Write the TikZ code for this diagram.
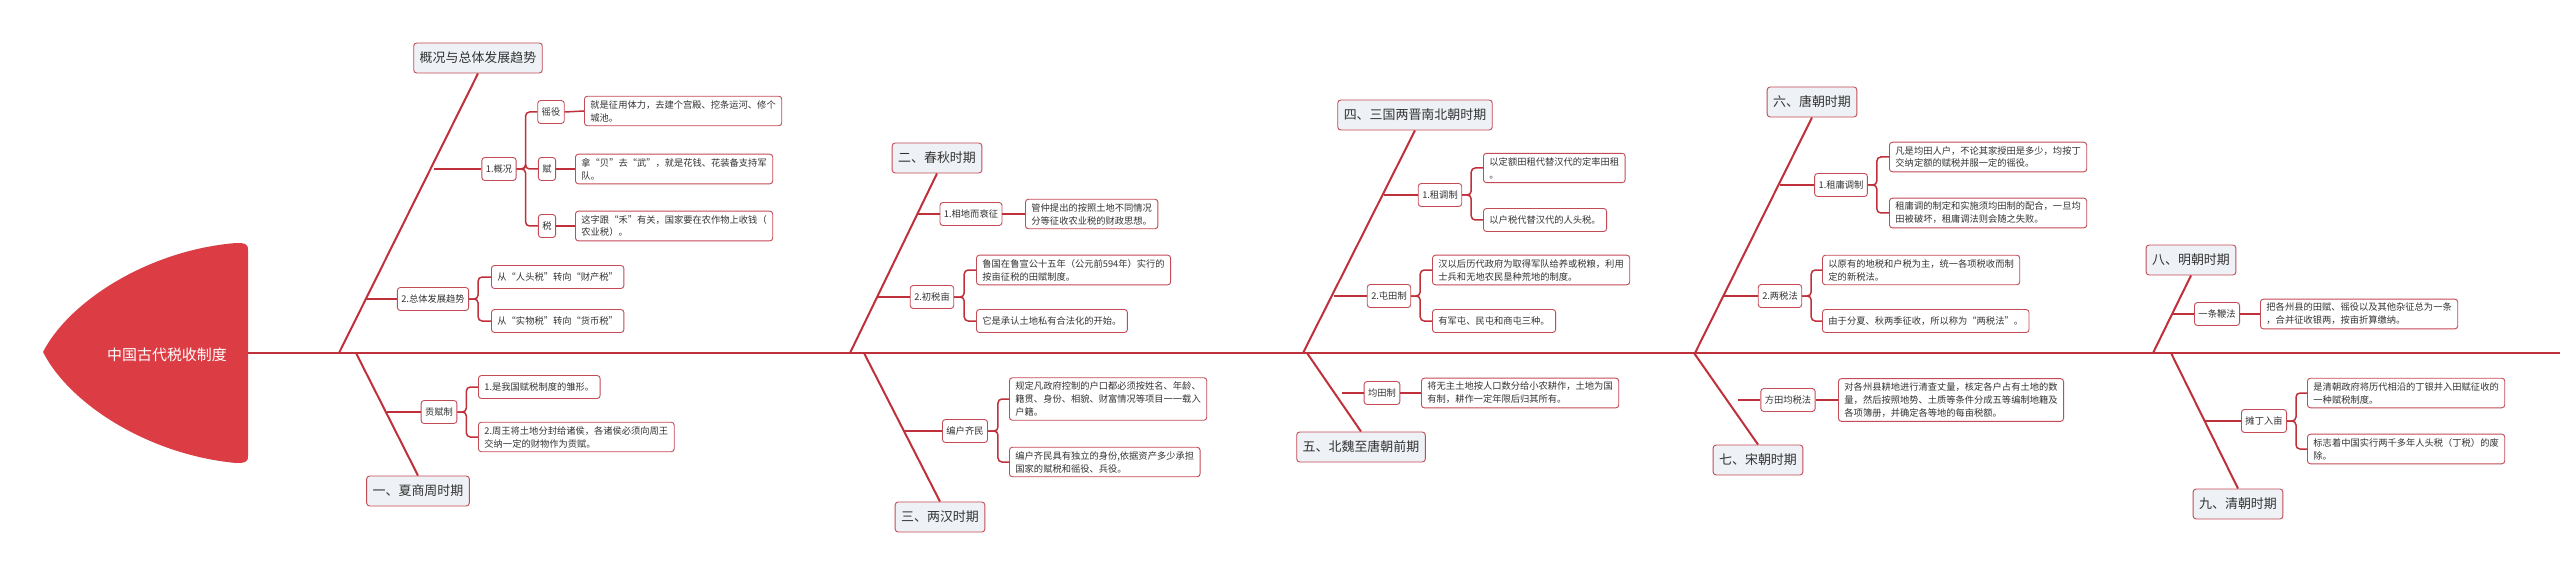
\documentclass[tikz,border=0pt]{standalone}
\usepackage{fontspec}
\setmainfont{Noto Sans CJK SC}
\usetikzlibrary{calc,positioning}
\definecolor{headred}{HTML}{DC3D45}
\definecolor{bone}{HTML}{C0303A}
\definecolor{boxline}{HTML}{C44A55}
\definecolor{catfill}{HTML}{EEF1F5}
\definecolor{txtc}{HTML}{333333}

\begin{document}
\begin{tikzpicture}[
  x=1bp, y=-1bp,
  category/.style={
    rectangle, rounded corners=3bp,
    fill=catfill, draw=boxline, line width=0.9bp,
    minimum height=30bp, inner xsep=6bp,
    font=\fontsize{13}{15}\selectfont, text=txtc
  },
  topic/.style={
    rectangle, rounded corners=3bp,
    fill=white, draw=boxline, line width=0.9bp,
    minimum height=23bp, inner xsep=4bp,
    font=\fontsize{9.3}{12}\selectfont, text=txtc
  },
  note/.style={
    rectangle, rounded corners=3bp,
    fill=white, draw=boxline, line width=0.9bp,
    minimum height=23bp, inner xsep=6bp, inner ysep=4bp,
    align=left, anchor=west,
    font=\fontsize{9.3}{13}\selectfont, text=txtc
  },
  spine/.style={draw=bone, line width=2.4bp},
  rib/.style={draw=bone, line width=2bp},
  twig/.style={draw=bone, line width=1.5bp},
  fork/.style={draw=bone, line width=1.5bp, rounded corners=4bp}
  ]
\useasboundingbox (0,0) rectangle (2560,575);
% head
\fill[headred] (248,250) .. controls (248,243) and (244,243) .. (236,243)
  .. controls (150,250) and (70,300) .. (43,352)
  .. controls (70,405) and (150,455) .. (236,463)
  .. controls (244,463) and (248,463) .. (248,456) -- cycle;
\node[text=white, font=\fontsize{15}{17}\selectfont] (title) at (167,355) {中国古代税收制度};
\coordinate (tail) at (2560,353);
\draw[spine] (248,353) -- (tail);

% Overview
\node[category] (overview) at (478,58) {概况与总体发展趋势};
\coordinate (overview sp) at (339,353);
\draw[rib] (overview.south) -- (overview sp);
\node[topic] (situation) at (499,169) {1.概况};
\coordinate (situation r) at (434,169);
\draw[twig] (situation r) -- (situation.west);
\node[topic] (yaoyi) at (551,112) {徭役};
\node[topic] (fu) at (547,169) {赋};
\node[topic] (shui) at (547,226) {税};
\foreach \n in {yaoyi,fu,shui} \draw[fork] (situation.east) -- ++(9,0) |- (\n.west);
\node[note] (yaoyi n) at (584,111) {就是征用体力，去建个宫殿、挖条运河、修个\\城池。};
\node[note] (fu n) at (575,169) {拿“贝”去“武”，就是花钱、花装备支持军\\队。};
\node[note] (shui n) at (575,226) {这字跟“禾”有关，国家要在农作物上收钱（\\农业税）。};
\foreach \n in {yaoyi,fu,shui} \draw[twig] (\n.east) -- (\n\space n.west);
\node[topic] (trend) at (433,299) {2.总体发展趋势};
\coordinate (trend r) at (366,299);
\draw[twig] (trend r) -- (trend.west);
\node[note] (trend a) at (491,277) {从“人头税”转向“财产税”};
\node[note] (trend b) at (491,321) {从“实物税”转向“货币税”};
\foreach \n in {trend a,trend b} \draw[fork] (trend.east) -- ++(9,0) |- (\n.west);

% I Xia Shang Zhou
\node[category] (xia) at (418,491) {一、夏商周时期};
\coordinate (xia sp) at (356,353);
\draw[rib] (xia sp) -- (xia.north);
\node[topic] (gongfu) at (439,412) {贡赋制};
\coordinate (gongfu r) at (387,412);
\draw[twig] (gongfu r) -- (gongfu.west);
\node[note] (gongfu a) at (478,387) {1.是我国赋税制度的雏形。};
\node[note] (gongfu b) at (478,437) {2.周王将土地分封给诸侯，各诸侯必须向周王\\交纳一定的财物作为贡赋。};
\foreach \n in {gongfu a,gongfu b} \draw[fork] (gongfu.east) -- ++(9,0) |- (\n.west);

% II Spring and Autumn
\node[category] (chunqiu) at (937,158) {二、春秋时期};
\coordinate (chunqiu sp) at (850,353);
\draw[rib] (chunqiu.south) -- (chunqiu sp);
\node[topic] (xiangdi) at (971,214) {1.相地而衰征};
\coordinate (xiangdi r) at (918,214);
\draw[twig] (xiangdi r) -- (xiangdi.west);
\node[note] (xiangdi n) at (1025,214) {管仲提出的按照土地不同情况\\分等征收农业税的财政思想。};
\draw[twig] (xiangdi.east) -- (xiangdi n.west);
\node[topic] (chushui) at (932,297) {2.初税亩};
\coordinate (chushui r) at (877,297);
\draw[twig] (chushui r) -- (chushui.west);
\node[note] (chushui a) at (976,270) {鲁国在鲁宣公十五年（公元前594年）实行的\\按亩征税的田赋制度。};
\node[note] (chushui b) at (976,321) {它是承认土地私有合法化的开始。};
\foreach \n in {chushui a,chushui b} \draw[fork] (chushui.east) -- ++(10,0) |- (\n.west);

% III Han
\node[category] (han) at (940,517) {三、两汉时期};
\coordinate (han sp) at (864,353);
\draw[rib] (han sp) -- (han.north);
\node[topic] (bianhu) at (965,431) {编户齐民};
\coordinate (bianhu r) at (905,431);
\draw[twig] (bianhu r) -- (bianhu.west);
\node[note] (bianhu a) at (1009,399) {规定凡政府控制的户口都必须按姓名、年龄、\\籍贯、身份、相貌、财富情况等项目一一载入\\户籍。};
\node[note] (bianhu b) at (1009,462) {编户齐民具有独立的身份,依据资产多少承担\\国家的赋税和徭役、兵役。};
\foreach \n in {bianhu a,bianhu b} \draw[fork] (bianhu.east) -- ++(10,0) |- (\n.west);

% IV Three Kingdoms to Southern and Northern
\node[category] (sanguo) at (1415,115) {四、三国两晋南北朝时期};
\coordinate (sanguo sp) at (1303,353);
\draw[rib] (sanguo.south) -- (sanguo sp);
\node[topic] (zudiao) at (1440,195) {1.租调制};
\coordinate (zudiao r) at (1384,195);
\draw[twig] (zudiao r) -- (zudiao.west);
\node[note] (zudiao a) at (1483,168) {以定额田租代替汉代的定率田租\\。};
\node[note] (zudiao b) at (1483,220) {以户税代替汉代的人头税。};
\foreach \n in {zudiao a,zudiao b} \draw[fork] (zudiao.east) -- ++(9,0) |- (\n.west);
\node[topic] (tuntian) at (1389,296) {2.屯田制};
\coordinate (tuntian r) at (1334,296);
\draw[twig] (tuntian r) -- (tuntian.west);
\node[note] (tuntian a) at (1432,270) {汉以后历代政府为取得军队给养或税粮，利用\\士兵和无地农民垦种荒地的制度。};
\node[note] (tuntian b) at (1432,321) {有军屯、民屯和商屯三种。};
\foreach \n in {tuntian a,tuntian b} \draw[fork] (tuntian.east) -- ++(9,0) |- (\n.west);

% V Northern Wei to early Tang
\node[category] (beiwei) at (1361,447) {五、北魏至唐朝前期};
\coordinate (beiwei sp) at (1307,353);
\draw[rib] (beiwei sp) -- (beiwei.north);
\node[topic] (juntian) at (1382,393) {均田制};
\coordinate (juntian r) at (1342,393);
\draw[twig] (juntian r) -- (juntian.west);
\node[note] (juntian n) at (1421,393) {将无主土地按人口数分给小农耕作，土地为国\\有制，耕作一定年限后归其所有。};
\draw[twig] (juntian.east) -- (juntian n.west);

% VI Tang
\node[category] (tang) at (1812,102) {六、唐朝时期};
\coordinate (tang sp) at (1695,353);
\draw[rib] (tang.south) -- (tang sp);
\node[topic] (zuyong) at (1841,185) {1.租庸调制};
\coordinate (zuyong r) at (1780,185);
\draw[twig] (zuyong r) -- (zuyong.west);
\node[note] (zuyong a) at (1889,157) {凡是均田人户，不论其家授田是多少，均按丁\\交纳定额的赋税并服一定的徭役。};
\node[note] (zuyong b) at (1889,213) {租庸调的制定和实施须均田制的配合，一旦均\\田被破坏，租庸调法则会随之失败。};
\foreach \n in {zuyong a,zuyong b} \draw[fork] (zuyong.east) -- ++(9,0) |- (\n.west);
\node[topic] (liangshui) at (1780,296) {2.两税法};
\coordinate (liangshui r) at (1723,296);
\draw[twig] (liangshui r) -- (liangshui.west);
\node[note] (liangshui a) at (1822,270) {以原有的地税和户税为主，统一各项税收而制\\定的新税法。};
\node[note] (liangshui b) at (1822,321) {由于分夏、秋两季征收，所以称为“两税法”。};
\foreach \n in {liangshui a,liangshui b} \draw[fork] (liangshui.east) -- ++(9,0) |- (\n.west);

% VII Song
\node[category] (song) at (1758,460) {七、宋朝时期};
\coordinate (song sp) at (1694,353);
\draw[rib] (song sp) -- (song.north);
\node[topic] (fangtian) at (1788,400) {方田均税法};
\coordinate (fangtian r) at (1738,400);
\draw[twig] (fangtian r) -- (fangtian.west);
\node[note] (fangtian n) at (1838,400) {对各州县耕地进行清查丈量，核定各户占有土地的数\\量，然后按照地势、土质等条件分成五等编制地籍及\\各项簿册，并确定各等地的每亩税额。};
\draw[twig] (fangtian.east) -- (fangtian n.west);

% VIII Ming
\node[category] (ming) at (2191,260) {八、明朝时期};
\coordinate (ming sp) at (2153,353);
\draw[rib] (ming.south) -- (ming sp);
\node[topic] (yitiao) at (2217,314) {一条鞭法};
\coordinate (yitiao r) at (2173,314);
\draw[twig] (yitiao r) -- (yitiao.west);
\node[note] (yitiao n) at (2260,314) {把各州县的田赋、徭役以及其他杂征总为一条\\，合并征收银两，按亩折算缴纳。};
\draw[twig] (yitiao.east) -- (yitiao n.west);

% IX Qing
\node[category] (qing) at (2238,504) {九、清朝时期};
\coordinate (qing sp) at (2171,353);
\draw[rib] (qing sp) -- (qing.north);
\node[topic] (tanding) at (2264,421) {摊丁入亩};
\coordinate (tanding r) at (2205,421);
\draw[twig] (tanding r) -- (tanding.west);
\node[note] (tanding a) at (2307,393) {是清朝政府将历代相沿的丁银并入田赋征收的\\一种赋税制度。};
\node[note] (tanding b) at (2307,449) {标志着中国实行两千多年人头税（丁税）的废\\除。};
\foreach \n in {tanding a,tanding b} \draw[fork] (tanding.east) -- ++(9,0) |- (\n.west);
\end{tikzpicture}
\end{document}
